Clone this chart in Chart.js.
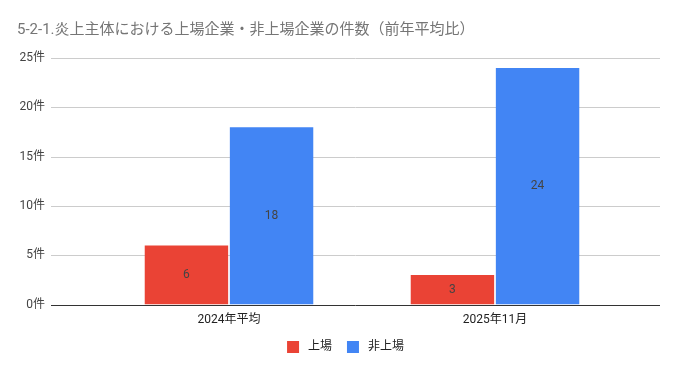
<!DOCTYPE html>
<html>
<head>
<meta charset="utf-8">
<script src="https://cdn.jsdelivr.net/npm/chart.js@4/dist/chart.umd.min.js"></script>
<style>
  html, body { margin: 0; padding: 0; background: #fff; }
  #wrap { width: 692px; height: 371px; }
</style>
</head>
<body>
<div id="wrap"><canvas id="chart"></canvas></div>
<script>
const categories = ["2024年平均", "2025年11月"];
const listed = [6, 3];
const unlisted = [18, 24];
const seriesNames = ["上場", "非上場"];
const title = "5-2-1.炎上主体における上場企業・非上場企業の件数（前年平均比）";

const FONT = "Roboto, 'Noto Sans CJK JP', sans-serif";

// grid lines across the full plot width + value labels in bars
const gridPlugin = {
  id: "wideGrid",
  beforeDatasetsDraw(chart) {
    const ctx = chart.ctx;
    const y = chart.scales.y;
    ctx.save();
    y.ticks.forEach(t => {
      const py = Math.round(y.getPixelForValue(t.value)) + 0.5;
      ctx.beginPath();
      ctx.strokeStyle = t.value === 0 ? "#333333" : "#cccccc";
      ctx.lineWidth = 1;
      ctx.moveTo(51, py);
      ctx.lineTo(660, py);
      ctx.stroke();
    });
    ctx.restore();
  },
  afterDatasetsDraw(chart) {
    const ctx = chart.ctx;
    ctx.save();
    ctx.font = "12px " + FONT;
    ctx.fillStyle = "#444444";
    ctx.textAlign = "center";
    ctx.textBaseline = "middle";
    chart.data.datasets.forEach((ds, i) => {
      chart.getDatasetMeta(i).data.forEach((bar, j) => {
        const p = bar.getProps(["x", "y", "base"], true);
        ctx.fillText(String(ds.data[j]), p.x, (p.y + p.base) / 2);
      });
    });
    ctx.restore();
  }
};

new Chart(document.getElementById("chart"), {
  type: "bar",
  data: {
    labels: categories,
    datasets: [
      {
        label: seriesNames[0],
        data: listed,
        backgroundColor: "#ea4335",
        categoryPercentage: 0.64,
        barPercentage: 0.98,
      },
      {
        label: seriesNames[1],
        data: unlisted,
        backgroundColor: "#4285f4",
        categoryPercentage: 0.64,
        barPercentage: 0.98,
      },
    ],
  },
  options: {
    responsive: true,
    maintainAspectRatio: false,
    animation: false,
    layout: { padding: { left: 17, right: 18, top: 0, bottom: 8 } },
    scales: {
      x: {
        grid: { display: false, drawTicks: false },
        border: { display: false },
        ticks: { color: "#222222", font: { family: FONT, size: 12 }, padding: 8 },
      },
      y: {
        min: 0,
        max: 25,
        afterFit: s => { s.width = 79; },
        grid: { display: false, drawTicks: false },
        border: { display: false },
        ticks: {
          stepSize: 5,
          padding: 51,
          color: "#444444",
          font: { family: FONT, size: 12 },
          callback: v => v + "件",
        },
      },
      // empty right-hand spacer so the plot ends where the reference does
      y2: {
        position: "right",
        min: 0,
        max: 25,
        afterFit: s => { s.width = 46; },
        grid: { display: false, drawTicks: false },
        border: { display: false },
        ticks: { display: false },
      },
    },
    plugins: {
      title: {
        display: true,
        text: title,
        align: "start",
        color: "#757575",
        font: { family: FONT, size: 15, weight: "normal" },
        padding: { top: 12, bottom: 19 },
      },
      legend: {
        position: "bottom",
        labels: {
          boxWidth: 12,
          boxHeight: 12,
          padding: 6,
          color: "#222222",
          font: { family: FONT, size: 12 },
          generateLabels: chart => chart.data.datasets.map((ds, i) => ({
            text: " " + ds.label + (i === 0 ? "   " : ""),
            fillStyle: ds.backgroundColor,
            strokeStyle: ds.backgroundColor,
            lineWidth: 0,
            fontColor: "#222222",
            datasetIndex: i,
          })),
        },
      },
      tooltip: { enabled: false },
    },
  },
  plugins: [gridPlugin],
});
</script>
</body>
</html>
